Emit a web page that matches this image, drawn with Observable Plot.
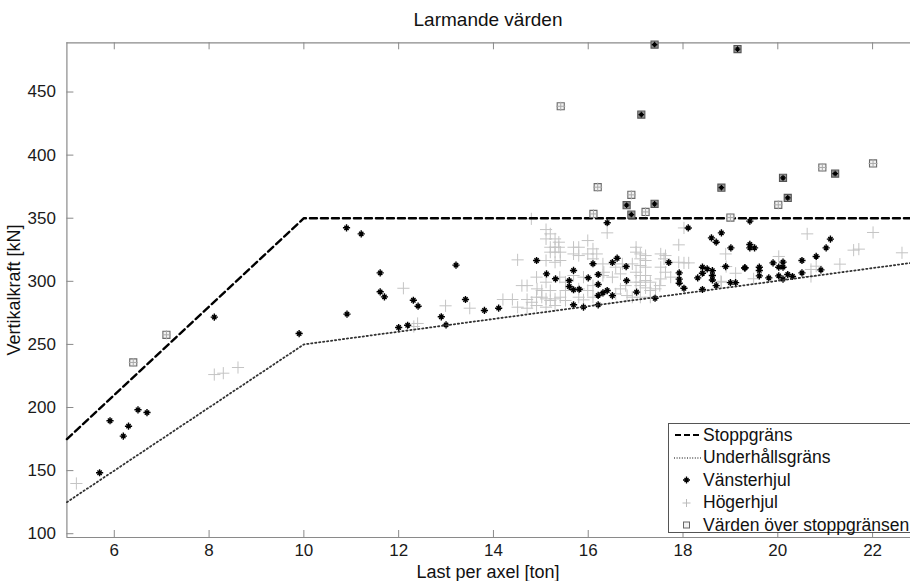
<!DOCTYPE html>
<html><head><meta charset="utf-8">
<script src="https://cdn.jsdelivr.net/npm/d3@7"></script>
<script src="https://cdn.jsdelivr.net/npm/@observablehq/plot@0.6"></script>
<style>
body{margin:0;background:#fff;font-family:"Liberation Sans",Arial,sans-serif;color:#111;}
#wrap{position:relative;width:910px;height:581px;overflow:hidden;}
#title{height:30px;padding-left:66px;text-align:center;font-size:19px;line-height:40px;}
#ylab{position:absolute;left:14px;top:290px;transform:translate(-50%,-50%) rotate(-90deg);font-size:18px;white-space:nowrap;}
#xlab{position:absolute;left:488px;top:572px;transform:translate(-50%,-50%);font-size:18px;white-space:nowrap;}
#legend{position:absolute;left:668px;top:423px;width:260px;height:108px;border:1px solid #555;background:#fff;}
.row{position:absolute;left:0;height:22px;display:flex;align-items:center;font-size:17.5px;white-space:nowrap;}
.row svg{width:34px;height:22px;flex:none;}
</style></head><body>
<div id="wrap">
<div id="title">Larmande värden</div>
<div id="chart"></div>
<div id="ylab">Vertikalkraft [kN]</div>
<div id="xlab">Last per axel [ton]</div>
<div id="legend"></div>
</div>
<script>
// ---- data ----
const xTicks = [6, 8, 10, 12, 14, 16, 18, 20, 22];
const yTicks = [100, 150, 200, 250, 300, 350, 400, 450];
const stoppgrans = [[5, 175], [10, 350], [22.8, 350]];
const underhallsgrans = [[5, 125], [10, 250], [22.8, 314.5]];
const vansterhjul = [
[5.69,148.3],[5.91,189.5],[6.19,177.3],[6.30,185.2],[6.50,198.2],[6.69,196.0],[8.11,271.6],[9.90,258.6],
[10.90,342.4],[11.21,337.6],[11.61,306.7],[11.61,291.7],[11.70,287.7],[10.91,274.0],[12.31,285.0],[12.41,280.3],[13.21,312.8],[12.90,271.9],[13.41,285.6],[13.81,276.9],[12.00,263.4],[12.19,265.2],[13.00,265.5],[14.11,278.7],
[14.91,316.5],[15.12,305.9],[15.31,302.0],[15.69,308.6],[15.60,300.6],[15.60,295.9],[15.69,293.3],[15.81,293.7],[16.00,302.8],[16.10,313.9],[16.21,305.4],[16.21,297.5],[16.31,290.9],[16.21,288.8],[16.40,292.7],[15.69,281.4],[16.21,281.4],[15.90,279.5],
[16.40,346.4],[18.11,342.3],[18.81,338.4],[18.60,334.4],[18.70,331.0],[19.01,326.5],[16.61,318.3],[16.51,314.9],[16.80,311.7],[17.70,314.9],[16.81,300.6],[16.51,288.7],[17.41,286.6],[17.02,291.4],[17.92,306.7],[17.92,301.7],[17.92,298.5],[18.02,294.5],[18.31,302.7],[18.41,306.4],[18.41,311.2],[18.51,309.9],[18.62,308.5],[18.62,304.6],[18.62,301.1],[18.70,296.6],[18.90,311.7],[19.00,299.0],[19.11,299.0],[19.30,310.6],[18.41,293.5],
[19.41,347.7],[19.41,329.2],[19.51,326.5],[19.41,326.5],[19.31,310.7],[19.61,311.2],[19.61,308.6],[19.61,304.3],[19.81,302.7],[19.90,314.6],[20.02,311.2],[20.11,315.2],[20.11,311.2],[20.02,304.3],[20.11,301.7],[20.21,305.4],[20.31,303.8],[20.51,316.5],[20.51,306.7],[20.81,319.7],[20.91,309.1],[21.11,333.4],[21.02,326.5]
];
const hogerhjul = [
[5.20,139.8],[8.11,226.1],[8.30,227.2],[8.61,231.7],
[12.10,294.5],[12.99,280.6],[12.32,264.2],[12.40,266.6],[13.50,278.7],
[15.11,341.0],[15.20,337.6],[15.11,333.6],[15.30,333.6],[15.38,331.0],[15.20,327.0],[15.30,327.0],[15.38,327.0],[15.20,323.1],[15.30,323.1],[15.41,323.1],[15.11,316.5],[15.30,315.1],[15.41,316.5],[15.69,327.0],[15.80,327.0],[15.99,332.3],[16.10,325.7],[15.69,321.7],[15.80,320.4],[15.99,321.7],[16.18,321.7],[16.10,317.8],[16.31,313.8],[14.51,317.0],[14.91,303.3],[15.11,299.3],[15.40,303.3],[15.52,299.3],[15.69,304.6],[15.90,303.3],[16.10,296.6],[14.60,296.6],[14.71,296.6],[14.20,285.6],[14.40,285.6],[14.71,285.6],[14.81,283.4],[14.91,287.4],[15.02,287.4],[15.11,286.1],[15.20,284.8],[15.30,286.1],[15.41,287.4],[15.52,284.8],[14.91,280.8],[15.11,279.5],[15.30,280.8],[14.51,279.5],[14.71,278.7],[15.80,287.4],[15.90,285.3],[16.10,287.4],[15.99,292.7],[15.80,294.0],[16.31,304.6],[15.52,292.7],[15.20,292.7],[15.02,292.7],[14.92,294.0],
[14.80,349.5],[16.40,338.4],
[17.01,327.0],[17.01,323.1],[17.10,321.7],[17.21,320.4],[17.10,317.8],[17.21,316.5],[17.10,312.5],[17.21,311.2],[17.01,307.2],[17.10,304.6],[17.21,304.6],[17.01,299.3],[17.10,299.3],[17.21,300.6],[17.31,299.3],[17.10,296.6],[17.21,294.8],[17.31,292.7],[17.42,294.0],[17.53,321.7],[17.63,320.4],[17.60,317.8],[17.53,311.2],[17.63,307.2],[17.53,301.9],[17.74,303.3],[17.91,315.1],[18.02,314.6],[18.12,314.6],[16.33,307.2],[16.51,303.3],[16.68,305.9],[16.58,311.2],[16.72,313.8],[16.93,313.8],[16.68,294.0],[16.58,290.0],[16.82,288.7],[16.93,287.4],[17.10,287.4],[17.31,287.4],[16.79,296.6],
[18.02,342.3],[17.91,328.9],[18.90,321.7],[19.11,306.4],[18.81,299.3],[17.51,296.6],
[20.62,337.6],[22.01,338.7],[21.60,324.7],[21.71,325.5],[22.62,322.6],[20.70,309.4],[20.70,303.8],[20.81,312.0],[21.31,313.6],[19.49,302.0],[20.02,319.7],
[18.91,311.7],[18.80,300.0]
];
const overVanster = [[17.40,487.6],[17.12,432.1],[16.81,360.3],[16.91,352.9],[17.40,361.4],[19.15,484.0],[20.11,382.0],[21.21,385.4],[20.21,366.1],[18.81,374.2]];
const overHoger = [[6.40,235.7],[7.10,257.6],[15.42,438.7],[16.20,374.6],[16.91,368.5],[17.21,355.0],[16.11,353.4],[20.01,360.6],[20.94,390.2],[22.01,393.4],[19.00,350.5]];
const legendLabels = ["Stoppgräns", "Underhållsgräns", "Vänsterhjul", "Högerhjul", "Värden över stoppgränsen"];

// ---- marker ----
const asterisk = {draw(ctx, size) {
  const r = Math.sqrt(size / Math.PI), d = r * 0.6;
  ctx.moveTo(-r, 0); ctx.lineTo(r, 0); ctx.moveTo(0, -r); ctx.lineTo(0, r);
  ctx.moveTo(-d, -d); ctx.lineTo(d, d); ctx.moveTo(-d, d); ctx.lineTo(d, -d);
}};
const X = d => d[0], Y = d => d[1];
const frameW = 910 - 66.4, frameH = 551 - 12.3 - 44;

const chart = Plot.plot({
  width: 910, height: 551,
  marginTop: 12.3, marginLeft: 66.4, marginRight: 0, marginBottom: 44,
  style: {fontFamily: "Liberation Sans, Arial, sans-serif", fontSize: "17px", color: "#1a1a1a", background: "#fff"},
  x: {domain: [5, 22.8]},
  y: {domain: [97, 489]},
  marks: [
    Plot.ruleY([97, 489], {stroke: "#8a8a8a", strokeWidth: 1.2}),
    Plot.ruleX([5], {stroke: "#8a8a8a", strokeWidth: 1.2}),
    Plot.tickX(xTicks, {x: d => d, stroke: "#8a8a8a", insetTop: frameH - 7}),
    Plot.tickX(xTicks, {x: d => d, stroke: "#8a8a8a", insetBottom: frameH - 7}),
    Plot.tickY(yTicks, {y: d => d, stroke: "#8a8a8a", insetRight: frameW - 7}),
    Plot.axisX({ticks: xTicks, tickSize: 0, tickPadding: 6, label: null}),
    Plot.axisY({ticks: yTicks, tickSize: 0, tickPadding: 11, label: null}),
    Plot.dot(hogerhjul, {x: X, y: Y, symbol: "plus", r: 4, stroke: "#c4c4c4", strokeWidth: 1}),
    Plot.dot(vansterhjul, {x: X, y: Y, symbol: asterisk, r: 3.6, fill: "none", stroke: "#000", strokeWidth: 1.4}),
    Plot.line(underhallsgrans, {x: X, y: Y, stroke: "#333", strokeWidth: 1.8, strokeDasharray: "1.3,2.7"}),
    Plot.line(stoppgrans, {x: X, y: Y, stroke: "#000", strokeWidth: 2.4, strokeDasharray: "7,4"}),
    Plot.dot(overHoger, {x: X, y: Y, symbol: "square", r: 4, fill: "#f2f2f2", stroke: "#6a6a6a", strokeWidth: 1.1}),
    Plot.dot(overHoger, {x: X, y: Y, symbol: "plus", r: 3, stroke: "#aaa", strokeWidth: 1}),
    Plot.dot(overVanster, {x: X, y: Y, symbol: "square", r: 4, fill: "#999", stroke: "#555", strokeWidth: 1.1}),
    Plot.dot(overVanster, {x: X, y: Y, symbol: asterisk, r: 2.8, fill: "none", stroke: "#000", strokeWidth: 1.2})
  ]
});
document.getElementById("chart").append(chart);

// ---- legend ----
const swatches = [
  '<svg><line x1="6" x2="32" y1="11" y2="11" stroke="#000" stroke-width="2.2" stroke-dasharray="6,3"/></svg>',
  '<svg><line x1="5" x2="32" y1="11" y2="11" stroke="#555" stroke-width="1.3" stroke-dasharray="1,1.6"/></svg>',
  '<svg><path d="M17.5,7.5v7M14,11h7M15.5,9l4,4M15.5,13l4,-4" stroke="#000" stroke-width="1.3"/></svg>',
  '<svg><path d="M17.5,7v8M13.5,11h8" stroke="#bbb" stroke-width="1"/></svg>',
  '<svg><rect x="14.5" y="8" width="6" height="6" fill="#f2f2f2" stroke="#666"/></svg>'
];
const leg = document.getElementById("legend");
const rowTops = [1, 23.5, 46, 68.5, 91];
legendLabels.forEach((t, i) => {
  const r = document.createElement("div");
  r.className = "row";
  r.style.top = (rowTops[i] - 1) + "px";
  r.innerHTML = swatches[i] + '<span>' + t + '</span>';
  leg.append(r);
});
</script>
</body></html>
